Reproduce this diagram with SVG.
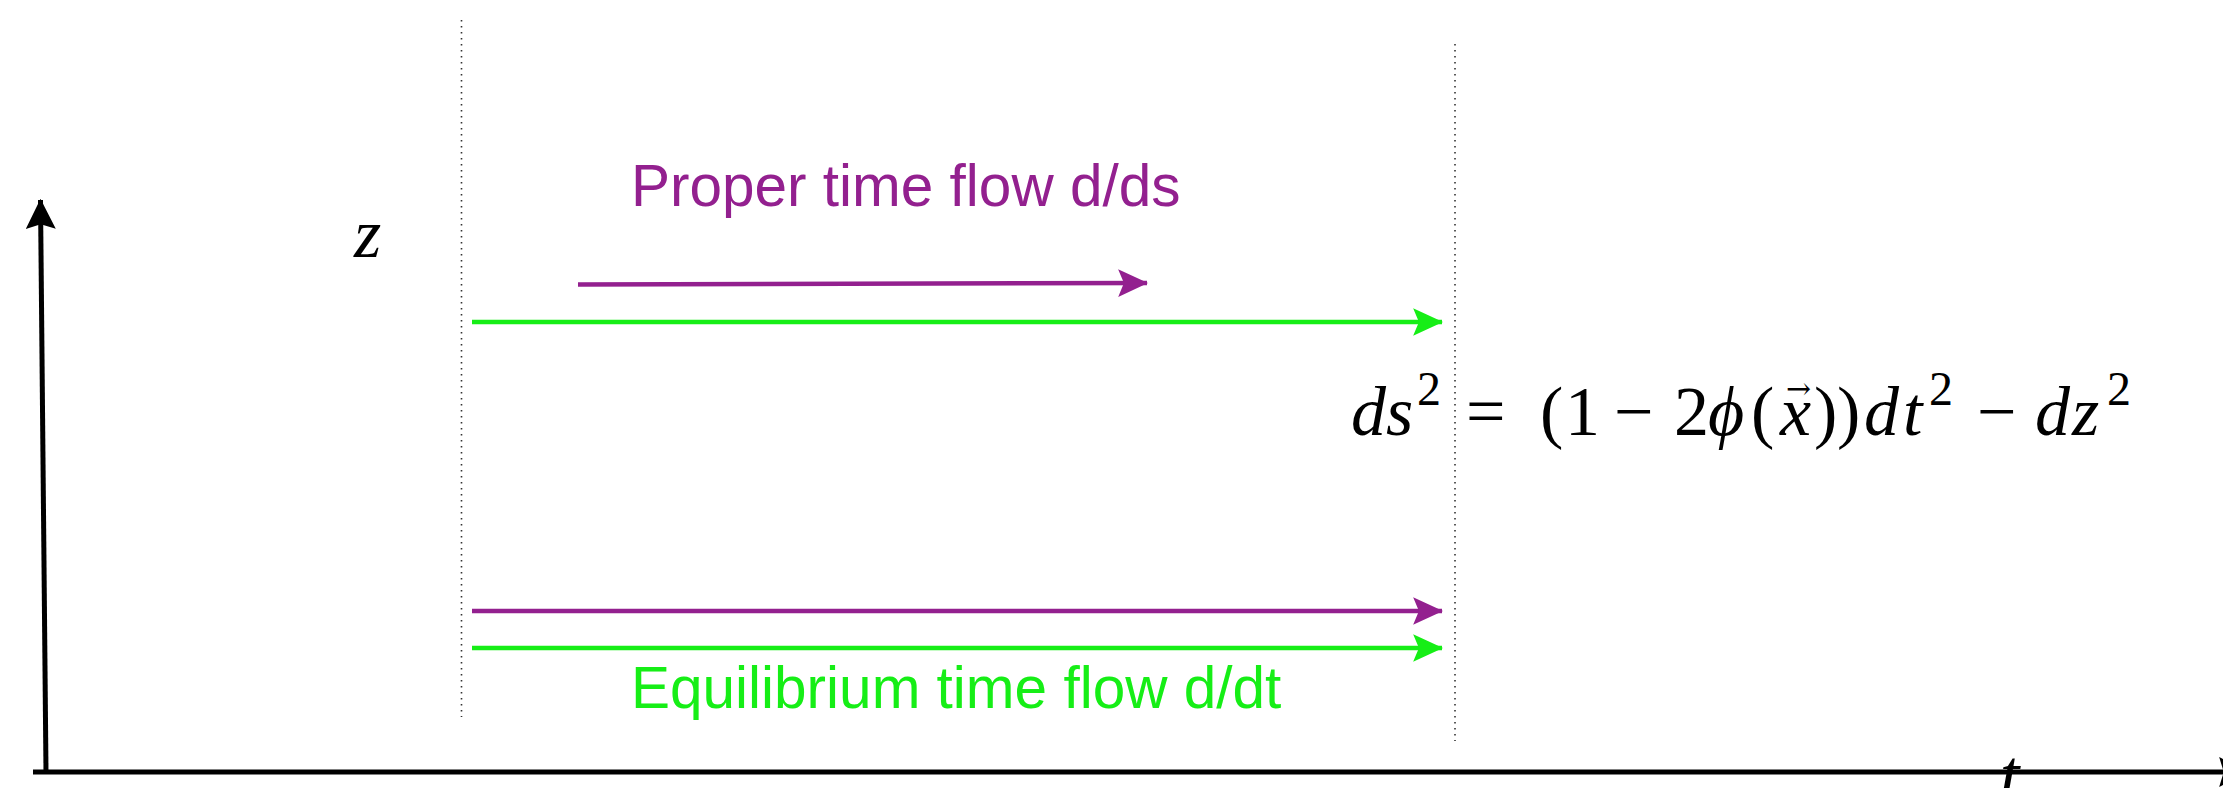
<svg xmlns="http://www.w3.org/2000/svg" width="2223" height="788" viewBox="0 0 2223 788">
<style>
.lbl{font-family:"Liberation Sans",Arial,sans-serif;font-size:58.5px}
.math{font-family:"Liberation Serif","Times New Roman",serif;font-size:70px}
.it{font-style:italic}
.sup{font-size:48px}
.dot{stroke:#333;stroke-width:1.6;stroke-dasharray:1.6 4.4;fill:none}
.purple{stroke:#93208F;stroke-width:4.5;fill:none}
.green{stroke:#16EE16;stroke-width:4.5;fill:none}
.axis{stroke:#000;stroke-width:5;fill:none}
</style>
<defs>
<marker id="mp" markerUnits="userSpaceOnUse" markerWidth="30" markerHeight="30" viewBox="0 0 26 24" refX="25" refY="12" orient="auto"><path d="M0,0 L26,12 L0,24 L5,12 Z" fill="#93208F"/></marker>
<marker id="mg" markerUnits="userSpaceOnUse" markerWidth="30" markerHeight="30" viewBox="0 0 26 24" refX="25" refY="12" orient="auto"><path d="M0,0 L26,12 L0,24 L5,12 Z" fill="#16EE16"/></marker>
<marker id="mk" markerUnits="userSpaceOnUse" markerWidth="30" markerHeight="30" viewBox="0 0 26 26" refX="25" refY="13" orient="auto"><path d="M0,0 L26,13 L0,26 L4,13 Z" fill="#000"/></marker>
</defs>
<rect width="2223" height="788" fill="#fff"/>
<g id="guides">
<line class="dot" x1="461.5" y1="20" x2="461.5" y2="717"/>
<line class="dot" x1="1455" y1="44" x2="1455" y2="741"/>
</g>
<g id="axes">
<line class="axis" x1="46" y1="772" x2="40.5" y2="200" marker-end="url(#mk)"/>
<line class="axis" x1="33" y1="772" x2="2248" y2="772" marker-end="url(#mk)"/>
</g>
<g id="connectors">
<line class="purple" x1="578" y1="284.5" x2="1147" y2="283" marker-end="url(#mp)"/>
<line class="green" x1="472" y1="322" x2="1442" y2="322" marker-end="url(#mg)"/>
<line class="purple" x1="472" y1="611" x2="1442" y2="611" marker-end="url(#mp)"/>
<line class="green" x1="472" y1="648" x2="1442" y2="648" marker-end="url(#mg)"/>
</g>
<g id="label-proper"><text class="lbl" x="631" y="206" fill="#93208F">Proper time flow d/ds</text></g>
<g id="label-equilibrium"><text class="lbl" x="631" y="708" fill="#16EE16">Equilibrium time flow d/dt</text></g>
<g id="label-z"><text class="math it" x="354" y="257" font-size="66">z</text></g>
<g id="label-t"><text class="math it" x="2000" y="798">t</text></g>
<g id="equation">
<text class="math" y="435"><tspan class="it" x="1351">d</tspan><tspan class="it" x="1386">s</tspan><tspan class="sup" x="1417" y="405">2</tspan><tspan x="1466" y="435">=</tspan><tspan x="1540">(</tspan><tspan x="1565">1</tspan><tspan x="1614">−</tspan><tspan x="1674">2</tspan><tspan class="it" x="1708">ϕ</tspan><tspan x="1751">(</tspan><tspan class="it" x="1780">x</tspan><tspan x="1814">)</tspan><tspan x="1837">)</tspan><tspan class="it" x="1864">d</tspan><tspan class="it" x="1903">t</tspan><tspan class="sup" x="1929" y="405">2</tspan><tspan x="1977" y="435">−</tspan><tspan class="it" x="2035">d</tspan><tspan class="it" x="2072">z</tspan><tspan class="sup" x="2107" y="405">2</tspan></text>
<text x="1786" y="399" font-family="'DejaVu Serif',serif" font-size="30">→</text>
</g>
</svg>
